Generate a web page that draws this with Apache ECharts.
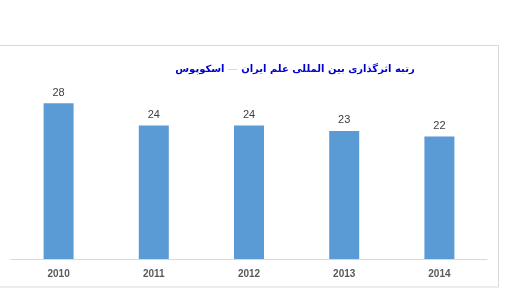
<!DOCTYPE html>
<html><head><meta charset="utf-8">
<script src="https://cdn.jsdelivr.net/npm/echarts@6/dist/echarts.min.js"></script>
<style>html,body{margin:0;padding:0;background:#fff}#c{width:516px;height:301px}</style>
</head><body><div id="c"></div>
<script>
const categories = ['2010', '2011', '2012', '2013', '2014'];
const values = [28, 24, 24, 23, 22];
const titlePart1 = 'رتبه اثرگذاری بین المللی علم ایران';
const titlePart2 = 'اسکوپوس';

const chart = echarts.init(document.getElementById('c'), null, {renderer: 'canvas'});
chart.setOption({
  animation: false,
  backgroundColor: '#fff',
  graphic: [
    {type: 'rect', shape: {x: -2, y: 45.5, width: 500.5, height: 241.5},
     style: {fill: 'none', stroke: '#d9d9d9', lineWidth: 1}, z: 0},
    {type: 'text', x: 295, y: 69,
     style: {
       text: '{a|' + titlePart2 + '} {d|—} {a|' + titlePart1 + '}',
       align: 'center', verticalAlign: 'middle',
       rich: {
         a: {fontFamily: 'DejaVu Sans', fontWeight: 'bold', fontSize: 10, fill: '#0000cc'},
         d: {fontFamily: 'DejaVu Sans', fontSize: 10, fill: '#c8c8e8'}
       }
     }}
  ],
  grid: {left: 11, right: 29, top: 92, bottom: 42},
  xAxis: {
    type: 'category', data: categories,
    axisLine: {lineStyle: {color: '#d9d9d9'}},
    axisTick: {show: false},
    axisLabel: {color: '#595959', fontSize: 10, fontWeight: 'bold', fontFamily: 'Liberation Sans', margin: 10}
  },
  yAxis: {type: 'value', min: 0, max: 30, show: false, splitLine: {show: false}},
  series: [{
    type: 'bar', data: values, barWidth: 30,
    itemStyle: {color: '#5b9bd5'},
    label: {show: true, position: 'top', color: '#404040', fontSize: 11, fontFamily: 'Liberation Sans', distance: 5}
  }]
});
</script></body></html>
